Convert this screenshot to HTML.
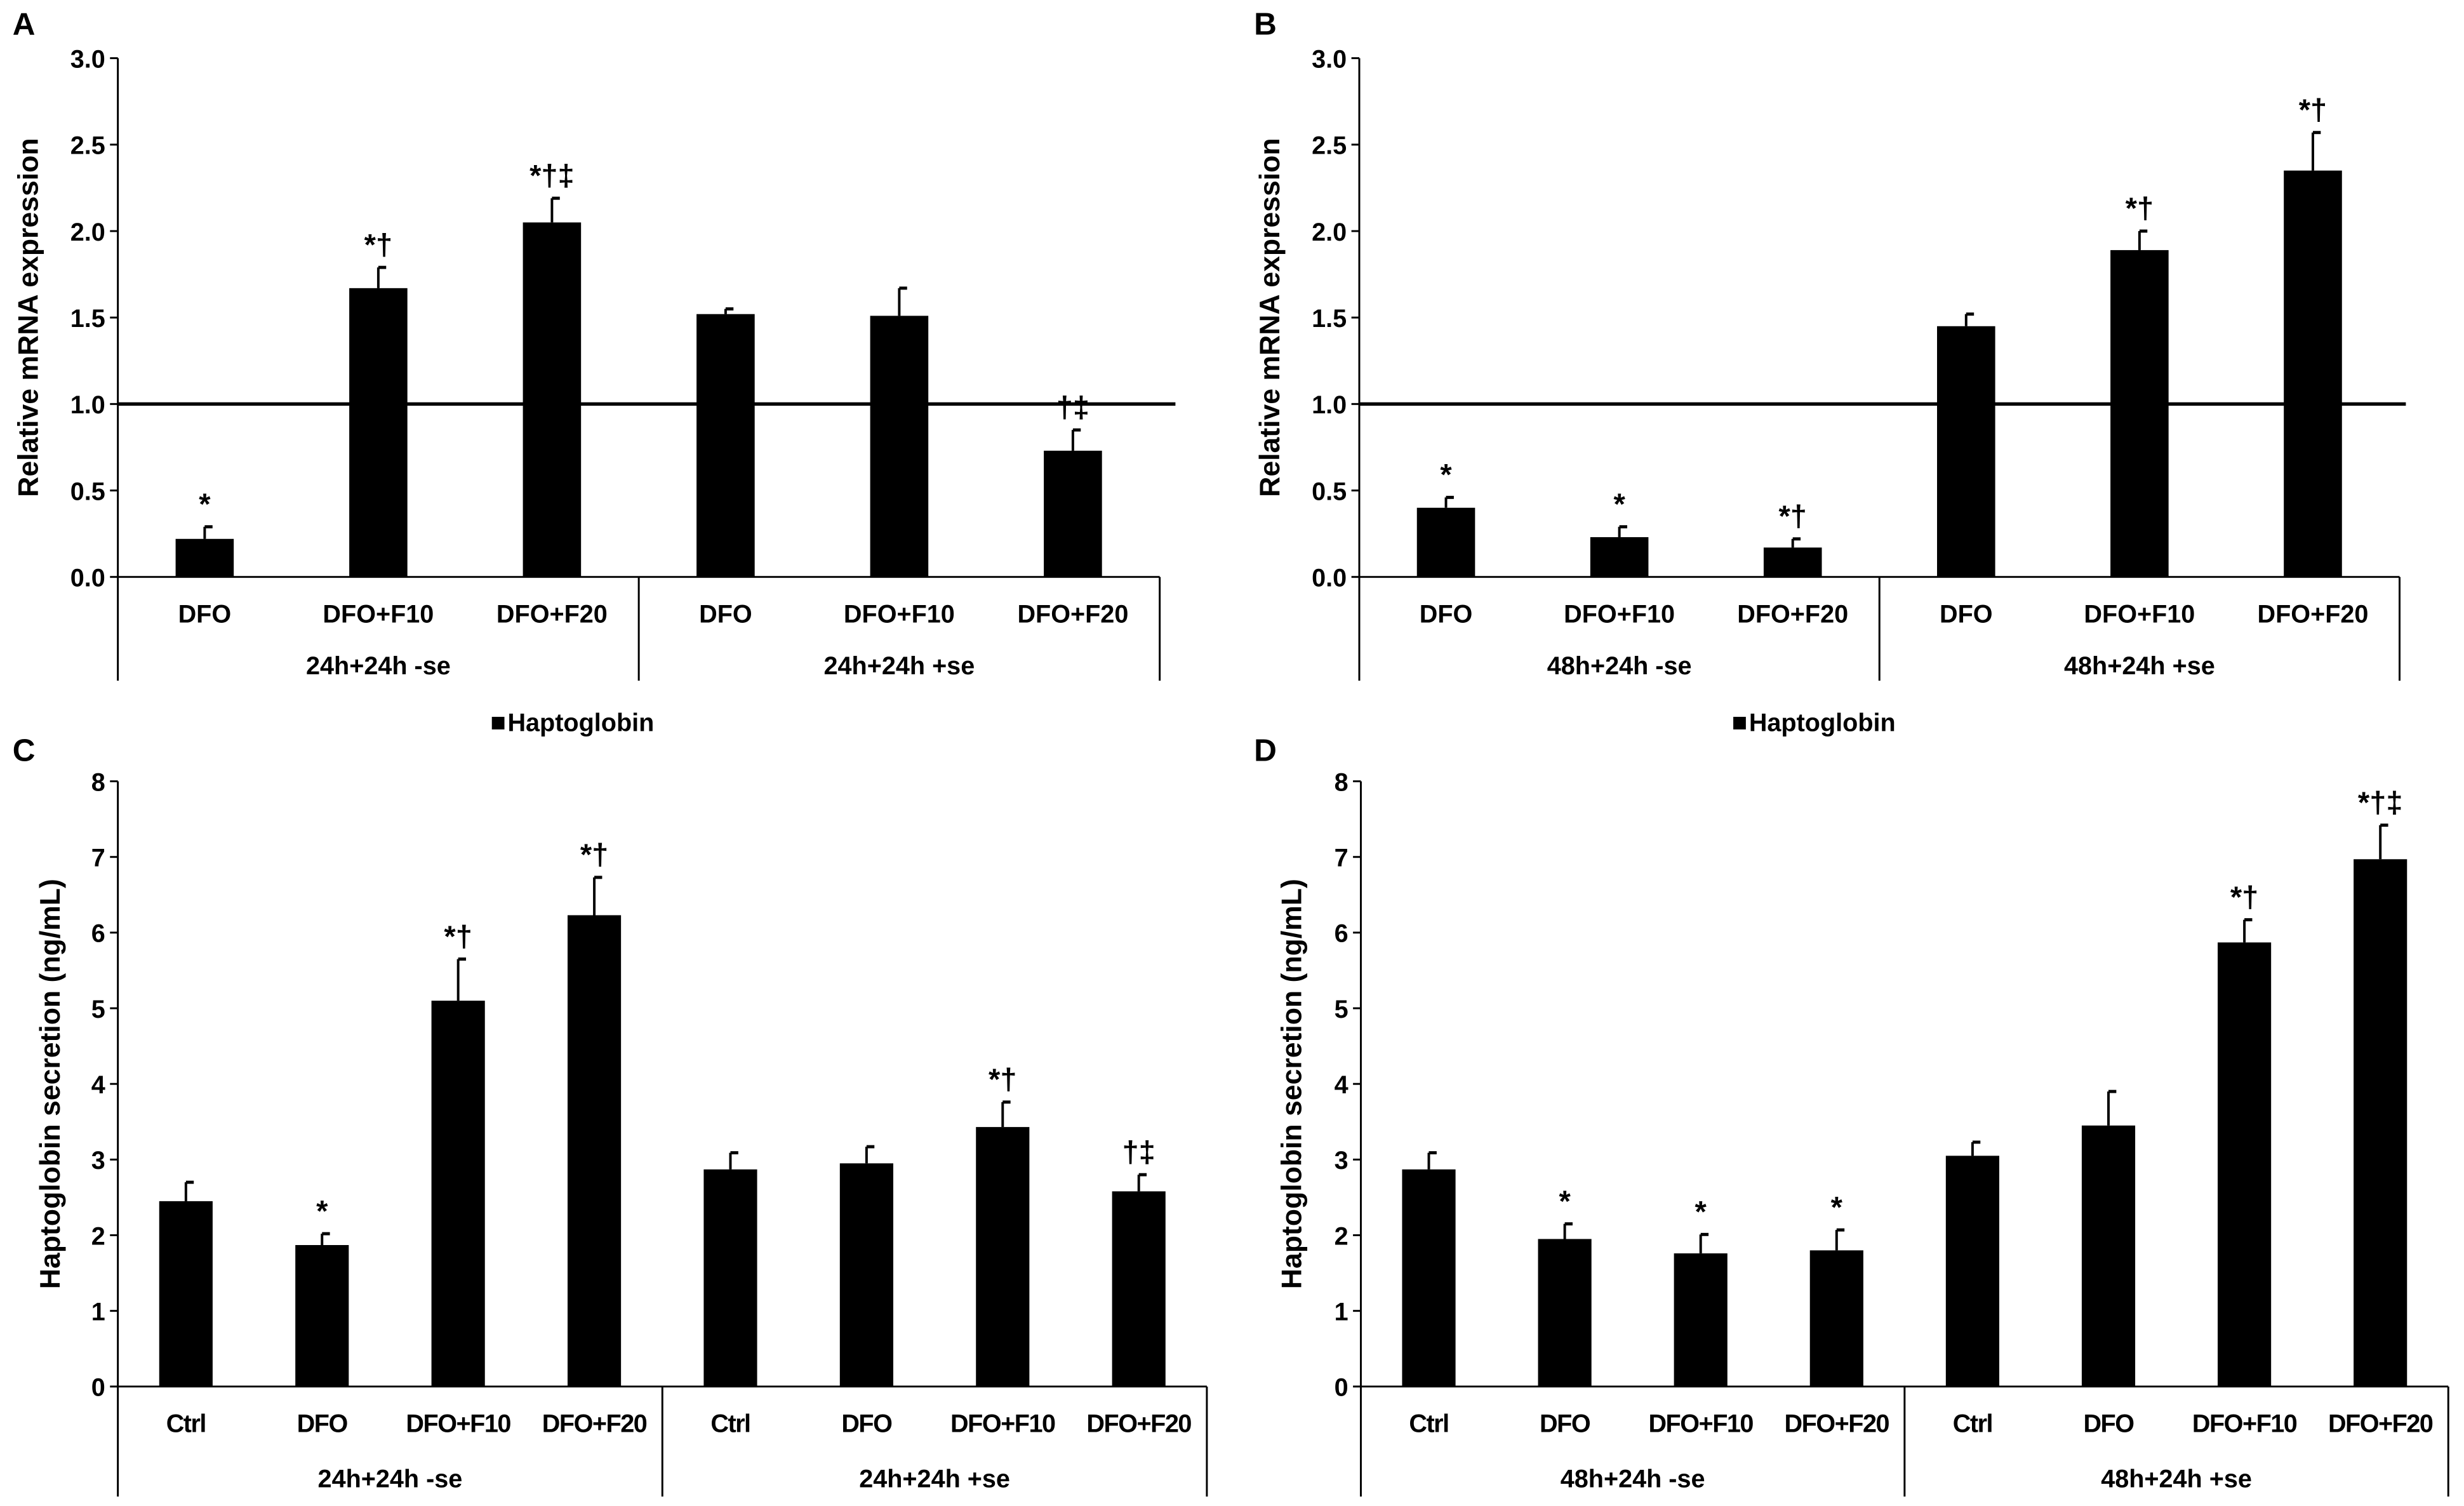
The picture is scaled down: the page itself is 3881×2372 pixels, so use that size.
<!DOCTYPE html>
<html><head><meta charset="utf-8"><style>
html,body{margin:0;padding:0;background:#fff}
svg{display:block}
text{font-family:"Liberation Sans",sans-serif;fill:#000}
</style></head><body>
<svg id="fig" width="3881" height="2372" viewBox="0 0 1568 958" preserveAspectRatio="none" xmlns="http://www.w3.org/2000/svg"></svg>
<script>
const catsAB = ["DFO","DFO+F10","DFO+F20","DFO","DFO+F10","DFO+F20"];
const catsCD = ["Ctrl","DFO","DFO+F10","DFO+F20","Ctrl","DFO","DFO+F10","DFO+F20"];
const valsA = [0.22,1.67,2.05,1.52,1.51,0.73];
const errA = [0.07,0.12,0.14,0.03,0.16,0.12];
const annA = ["*","*†","*†‡","","","†‡"];
const valsB = [0.40,0.23,0.17,1.45,1.89,2.35];
const errB = [0.06,0.06,0.05,0.07,0.11,0.22];
const annB = ["*","*","*†","","*†","*†"];
const valsC = [2.45,1.87,5.10,6.23,2.87,2.95,3.43,2.58];
const errC = [0.25,0.15,0.55,0.50,0.22,0.22,0.33,0.22];
const annC = ["","*","*†","*†","","","*†","†‡"];
const valsD = [2.87,1.95,1.76,1.80,3.05,3.45,5.87,6.97];
const errD = [0.22,0.20,0.25,0.27,0.18,0.45,0.30,0.45];
const annD = ["","*","*","*","","","*†","*†‡"];
const ticksAB = ["0.0","0.5","1.0","1.5","2.0","2.5","3.0"];
const ticksCD = ["0","1","2","3","4","5","6","7","8"];
const groupsA = ["24h+24h -se","24h+24h +se"];
const groupsB = ["48h+24h -se","48h+24h +se"];

const NS="http://www.w3.org/2000/svg";
const svg=document.getElementById('fig');
function el(tag,attrs,parent){const e=document.createElementNS(NS,tag);for(const k in attrs)e.setAttribute(k,attrs[k]);(parent||svg).appendChild(e);return e;}
function txt(s,x,y,size,anchor,parent,weight){const t=el('text',{x:x,y:y,'font-size':size,'text-anchor':anchor||'middle','font-weight':weight||'bold'},parent);t.textContent=s;return t;}

function panel(o){
  const g=el('g',{});
  
  
  const n=o.cats.length;
  const ymin=0,ymax=parseFloat(o.ticks[o.ticks.length-1]);
  const yS=v=>o.y0-(v-ymin)/(ymax-ymin)*(o.y0-o.yTop);
  const step=(o.xEnd-o.x0)/n;
  const xS=i=>o.x0+step*(i+0.5);
  const ya=el('line',{x1:o.x0,y1:o.yTop,x2:o.x0,y2:o.y0,stroke:'#000','stroke-width':1.2},g);
  
  o.ticks.forEach(t=>{const v=parseFloat(t);const y=yS(v);
    el('line',{x1:o.x0-5,y1:y,x2:o.x0,y2:y,stroke:'#000','stroke-width':1.2},g);
    const tl=txt(t,o.x0-8,y+6,16,'end',g);
    
  });
  o.vals.forEach((v,i)=>{
    const x=xS(i),w=o.bw,yv=yS(v),ye=yS(v+o.err[i]);
    const r=el('rect',{x:x-w/2,y:yv,width:w,height:o.y0-yv,fill:'#000'},g);
    
    const e1=el('line',{x1:x,y1:yv,x2:x,y2:ye,stroke:'#000','stroke-width':1.6},g);
    
    el('line',{x1:x,y1:ye,x2:x+5,y2:ye,stroke:'#000','stroke-width':2},g);
    if(o.ann[i]){const a=txt(o.ann[i],x,ye-8,19,'middle',g);
      }
    const cl=txt(o.cats[i],x,o.catY,16,'middle',g);
    if(o.tight) cl.setAttribute('letter-spacing','-0.6');
    
  });
  if(o.ref!==undefined){const rl=el('line',{x1:o.x0,y1:yS(o.ref),x2:o.refEnd,y2:yS(o.ref),stroke:'#000','stroke-width':2.2},g);
    }
  const xa=el('line',{x1:o.x0,y1:o.y0,x2:o.xEnd,y2:o.y0,stroke:'#000','stroke-width':1.2},g);
  
  const mid=(o.x0+o.xEnd)/2;
  [o.x0,mid,o.xEnd].forEach(x=>el('line',{x1:x,y1:o.y0,x2:x,y2:o.bottom,stroke:'#000','stroke-width':1.2},g));
  o.groups.forEach((s,k)=>{const gl=txt(s,k?(mid+o.xEnd)/2:(o.x0+mid)/2,o.groupY,16,'middle',g);
    });
  const ty=(o.y0+o.yTop)/2;
  const yt=txt(o.title,0,0,18,'middle',g);
  yt.setAttribute('transform','translate('+o.titleX+','+ty+') rotate(-90)');
  
  const pl=txt(o.letter,o.letterX,o.letterY,20,'start',g);
  
  if(o.legendX){
    const lg=el('g',{},g);
    el('rect',{x:o.legendX,y:o.legendY-10,width:8,height:8,fill:'#000'},lg);
    txt('Haptoglobin',o.legendX+10,o.legendY-1,16,'start',lg);
  }
}
const mrna="Relative mRNA expression", sec="Haptoglobin secretion (ng/mL)";
panel({name:'panel-a',cats:catsAB,vals:valsA,err:errA,ann:annA,ticks:ticksAB,x0:75,xEnd:738,y0:367,yTop:37,bw:37,ref:1,refEnd:748,catY:396,groupY:429,bottom:433,groups:groupsA,title:mrna,titleX:24,letter:'A',letterX:8,letterY:22,legendX:313,legendY:466});
panel({name:'panel-b',cats:catsAB,vals:valsB,err:errB,ann:annB,ticks:ticksAB,x0:865,xEnd:1527,y0:367,yTop:37,bw:37,ref:1,refEnd:1531,catY:396,groupY:429,bottom:433,groups:groupsB,title:mrna,titleX:814,letter:'B',letterX:798,letterY:22,legendX:1103,legendY:466});
panel({name:'panel-c',cats:catsCD,vals:valsC,err:errC,ann:annC,ticks:ticksCD,x0:75,xEnd:768,y0:882,yTop:497,bw:34,tight:true,catY:911,groupY:946,bottom:952,groups:groupsA,title:sec,titleX:38,letter:'C',letterX:8,letterY:484});
panel({name:'panel-d',cats:catsCD,vals:valsD,err:errD,ann:annD,ticks:ticksCD,x0:866,xEnd:1558,y0:882,yTop:497,bw:34,tight:true,catY:911,groupY:946,bottom:952,groups:groupsB,title:sec,titleX:828,letter:'D',letterX:798,letterY:484});
</script>
</body></html>
